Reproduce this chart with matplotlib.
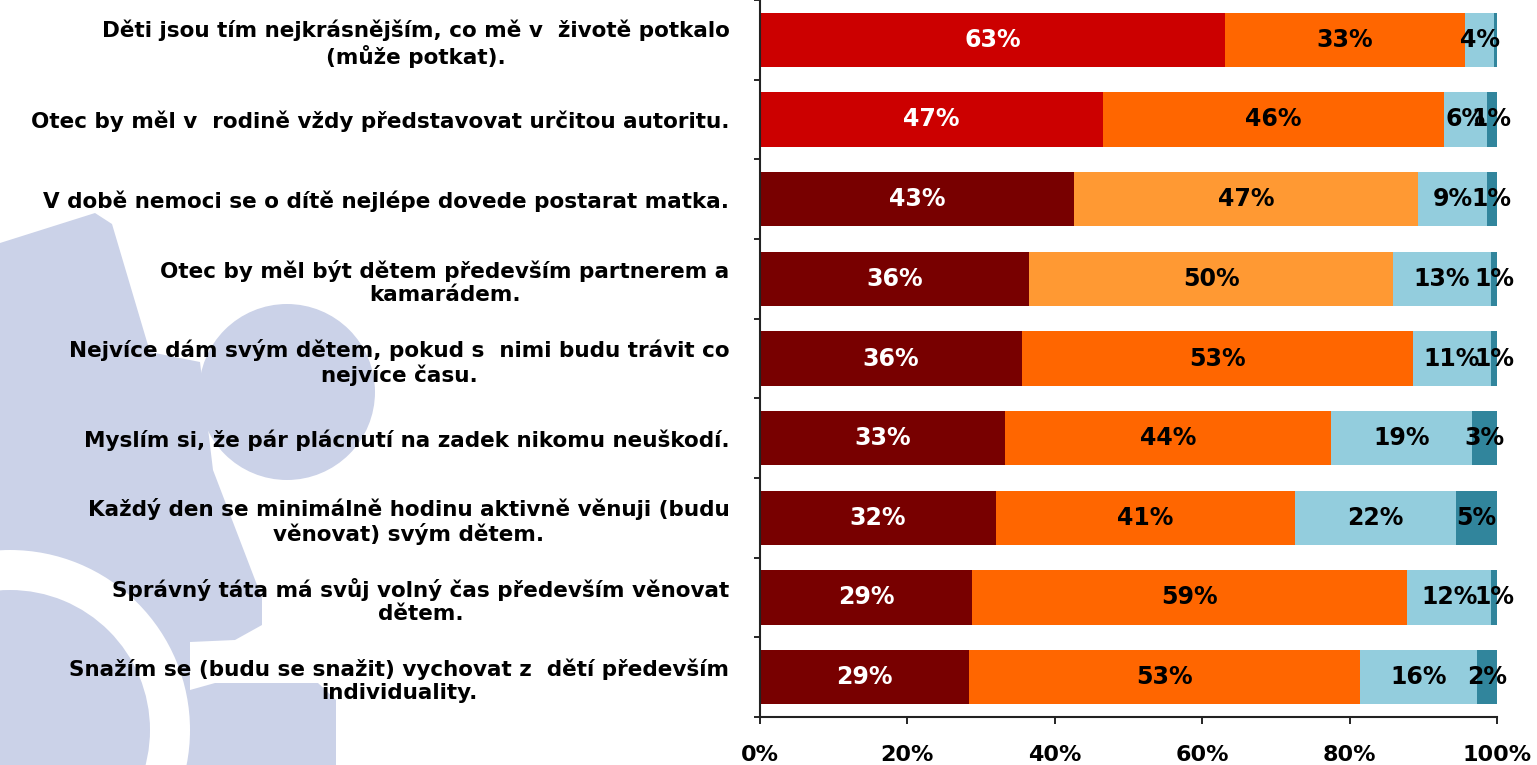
import numpy as np
import matplotlib
matplotlib.use("Agg")
import matplotlib.pyplot as plt
from matplotlib.patches import Polygon, Circle, Wedge

# --- data ---
categories = [
    "Děti jsou tím nejkrásnějším, co mě v  životě potkalo\n(může potkat).",
    "Otec by měl v  rodině vždy představovat určitou autoritu.",
    "V době nemoci se o dítě nejlépe dovede postarat matka.",
    "Otec by měl být dětem především partnerem a\nkamarádem.",
    "Nejvíce dám svým dětem, pokud s  nimi budu trávit co\nnejvíce času.",
    "Myslím si, že pár plácnutí na zadek nikomu neuškodí.",
    "Každý den se minimálně hodinu aktivně věnuji (budu\nvěnovat) svým dětem.",
    "Správný táta má svůj volný čas především věnovat\ndětem.",
    "Snažím se (budu se snažit) vychovat z  dětí především\nindividuality.",
]
share1 = [63.1, 46.5, 42.6, 36.5, 35.5, 33.2, 32.0, 28.8, 28.4]
share2 = [32.6, 46.3, 46.7, 49.4, 53.1, 44.3, 40.6, 59.0, 53.0]
share3 = [3.9, 5.8, 9.3, 13.3, 10.6, 19.1, 21.8, 11.4, 15.9]
share4 = [0.4, 1.4, 1.4, 0.8, 0.8, 3.4, 5.6, 0.8, 2.7]
text1 = ["63%", "47%", "43%", "36%", "36%", "33%", "32%", "29%", "29%"]
text2 = ["33%", "46%", "47%", "50%", "53%", "44%", "41%", "59%", "53%"]
text3 = ["4%", "6%", "9%", "13%", "11%", "19%", "22%", "12%", "16%"]
text4 = ["", "1%", "1%", "1%", "1%", "3%", "5%", "1%", "2%"]
xticks = [0, 20, 40, 60, 80, 100]

RED, DARKRED = "#CC0000", "#780000"
ORANGE, LIGHTORANGE = "#FF6600", "#FF9933"
LIGHTBLUE, TEAL = "#93CDDD", "#31859C"
LAVENDER = "#CBD2E8"

W, H = 1537, 765
fig = plt.figure(figsize=(W / 100, H / 100), dpi=100)

# --- decorative puzzle watermark in the background (pixel coords) ---
bg = fig.add_axes([0, 0, 1, 1], zorder=0)
bg.set_xlim(0, W)
bg.set_ylim(H, 0)
bg.axis("off")
piece = [(0, 243), (95, 213), (112, 224), (150, 352), (200, 362), (213, 470),
         (262, 598), (262, 625), (235, 640), (190, 642), (190, 690), (215, 683),
         (318, 683), (336, 700), (336, H), (0, H)]
bg.add_patch(Polygon(piece, closed=True, fc=LAVENDER, ec="none"))
bg.add_patch(Circle((287, 392), 88, fc=LAVENDER, ec="none"))
bg.add_patch(Wedge((10, 730), 180, 0, 360, width=40, fc="white", ec="none"))

# --- main chart ---
ax = fig.add_axes([760 / W, 1 - 717 / H, 737 / W, 717 / H], zorder=1)
ax.patch.set_alpha(0)

n = len(categories)
y = np.arange(n)
c1 = [RED if i < 2 else DARKRED for i in range(n)]
c2 = [LIGHTORANGE if i in (2, 3) else ORANGE for i in range(n)]

left = np.zeros(n)
series = [(share1, c1, text1, "white"), (share2, c2, text2, "black"),
          (share3, LIGHTBLUE, text3, "black"), (share4, TEAL, text4, "black")]
for vals, col, txt, tcol in series:
    vals = np.array(vals)
    ax.barh(y, vals, left=left, height=0.68, color=col, edgecolor="none")
    for i in range(n):
        if txt[i]:
            ax.text(left[i] + vals[i] / 2, y[i], txt[i], ha="center", va="center",
                    color=tcol, fontsize=17, fontweight="bold")
    left += vals

ax.set_xlim(0, 100)
ax.set_ylim(n - 0.5, -0.5)
ax.set_xticks(xticks)
ax.set_xticklabels([f"{t}%" for t in xticks], fontsize=16, fontweight="bold")
ax.tick_params(axis="x", length=5, width=1.2, pad=15, direction="out")

ax.set_yticks(y)
ax.set_yticklabels(categories, fontsize=15.5, fontweight="bold",
                   multialignment="center", linespacing=1.2)
ax.set_yticks(np.arange(n + 1) - 0.5, minor=True)
ax.tick_params(axis="y", which="major", length=0, pad=22)
ax.tick_params(axis="y", which="minor", length=4, width=1.2)

for s in ("top", "right"):
    ax.spines[s].set_visible(False)
for s in ("left", "bottom"):
    ax.spines[s].set_linewidth(1.5)
    ax.spines[s].set_color("#222222")

fig.savefig("out.png", dpi=100)
